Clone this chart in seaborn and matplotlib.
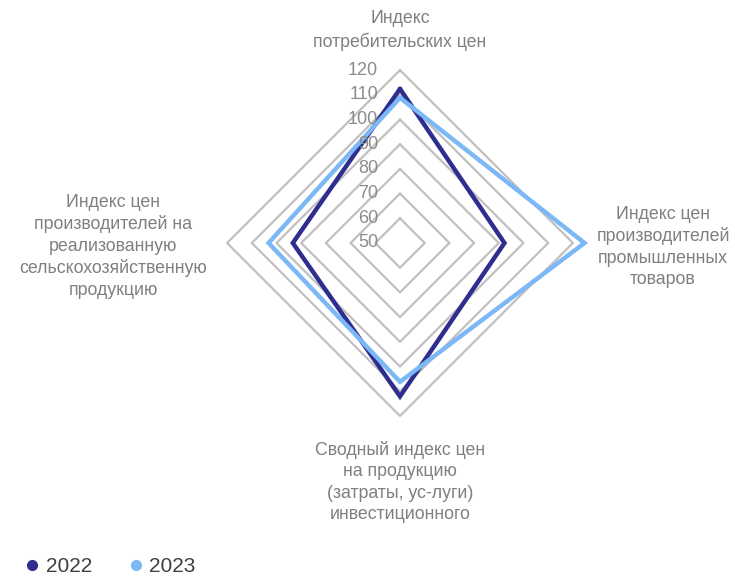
import numpy as np
import pandas as pd
import matplotlib
matplotlib.use("Agg")
import matplotlib.pyplot as plt
from matplotlib.lines import Line2D
import seaborn as sns

categories = [
    "Индекс\nпотребительских цен",
    "Индекс цен\nпроизводителей\nпромышленных\nтоваров",
    "Сводный индекс цен\nна продукцию\n(затраты, ус-луги)\nинвестиционного",
    "Индекс цен\nпроизводителей на\nреализованную\nсельскохозяйственную\nпродукцию",
]
years = ["2022", "2023"]
values_2022 = [112.4, 92.3, 112.1, 93.4]
values_2023 = [108.8, 124.7, 106.2, 103.2]
ticks = [50, 60, 70, 80, 90, 100, 110, 120]
colors = {"2022": "#2e2e8f", "2023": "#7cb8f6"}

r_min = 50
angles = np.array([0, 90, 180, 270]) * np.pi / 180  # clockwise from top


def to_xy(vals):
    r = np.array(vals) - r_min
    return r * np.sin(angles), r * np.cos(angles)


rows = []
for year, vals in zip(years, [values_2022, values_2023]):
    xs, ys = to_xy(vals)
    for i in list(range(4)) + [0]:
        rows.append({"year": year, "x": xs[i], "y": ys[i]})
df = pd.DataFrame(rows)

sns.set_style("white")
plt.rcParams["font.family"] = ["Liberation Sans", "DejaVu Sans"]

fig = plt.figure(figsize=(7.35, 5.77), dpi=100)
ax = fig.add_axes([0, 0, 1, 1])
px = 2.47  # pixels per value unit
ax.set_xlim(-400 / px, 335 / px)
ax.set_ylim(-334 / px, 243 / px)
ax.set_aspect("equal")
ax.axis("off")

# diamond grid
for t in ticks[1:]:
    gx, gy = to_xy([t] * 4)
    ax.plot(list(gx) + [gx[0]], list(gy) + [gy[0]], color="#c0c0c0", lw=1.6, zorder=1)

sns.lineplot(data=df, x="x", y="y", hue="year", palette=colors, sort=False,
             estimator=None, units="year", linewidth=3.2, legend=False, ax=ax, zorder=3)
for line in ax.lines[-2:]:
    line.set_solid_joinstyle("miter")

for t in ticks:
    ax.text(-8.9, t - r_min, str(t), ha="right", va="center", fontsize=13, color="#8c8c8c")

label_pos = [(0, 86.0), (106.5, -1.6), (0, -96.8), (-116.2, -1.3)]
for lab, (lx, ly) in zip(categories, label_pos):
    ax.text(lx, ly, lab, ha="center", va="center", fontsize=12.8, color="#7f7f7f",
            linespacing=1.34, multialignment="center")

handles = [Line2D([], [], marker="o", ls="", color=colors[y], markersize=7) for y in years]
fig.legend(handles, years, loc="center left", bbox_to_anchor=(0.021, 0.018), ncol=2,
           frameon=False, fontsize=15, handlelength=0.6, handletextpad=0.35,
           columnspacing=1.8, borderpad=0, labelcolor="#404040")

fig.savefig("out.png", dpi=100)
